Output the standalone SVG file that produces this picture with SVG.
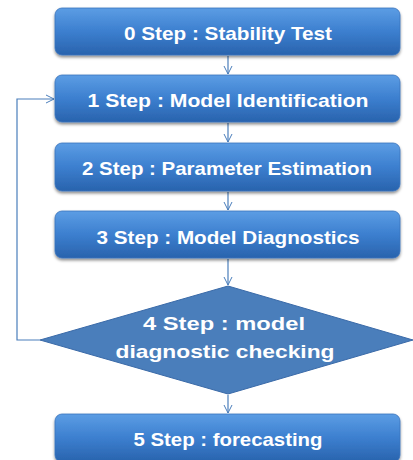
<svg xmlns="http://www.w3.org/2000/svg" width="413" height="460" viewBox="0 0 413 460">
<defs>
<linearGradient id="g" x1="0" y1="0" x2="0" y2="1">
<stop offset="0" stop-color="#5c9de4"/>
<stop offset="0.5" stop-color="#3c7fcf"/>
<stop offset="1" stop-color="#2963ad"/>
</linearGradient>
<filter id="sh" x="-5%" y="-10%" width="110%" height="130%">
<feDropShadow dx="0" dy="2" stdDeviation="1.5" flood-color="#000" flood-opacity="0.45"/>
</filter>
<marker id="ah" markerWidth="10" markerHeight="10" refX="9" refY="5" orient="auto" markerUnits="userSpaceOnUse">
<path d="M1,1 L9,5 L1,9" fill="none" stroke="#4a7ebb" stroke-width="1"/>
</marker>
</defs>
<style>
.box{fill:url(#g);stroke:#3a73bd;stroke-width:0.8;filter:url(#sh)}
.t{font-family:"Liberation Sans",Arial,sans-serif;font-weight:bold;font-size:19px;fill:#fff;text-anchor:middle}
.c{fill:none;stroke:#4a7ebb;stroke-width:1.2}
</style>
<rect width="413" height="460" fill="#fff"/>
<g id="connectors">
<line class="c" x1="228" y1="56" x2="228" y2="74" marker-end="url(#ah)"/>
<line class="c" x1="228" y1="123" x2="228" y2="142" marker-end="url(#ah)"/>
<line class="c" x1="228" y1="192" x2="228" y2="210" marker-end="url(#ah)"/>
<line class="c" x1="228" y1="259" x2="228" y2="285" marker-end="url(#ah)"/>
<line class="c" x1="228" y1="395" x2="228" y2="413" marker-end="url(#ah)"/>
<polyline class="c" points="40,340 17,340 17,99 54,99" marker-end="url(#ah)"/>
</g>
<g id="n0"><rect class="box" x="55" y="8" width="345" height="47" rx="7"/><text class="t" x="228" y="40" textLength="208" lengthAdjust="spacingAndGlyphs">0 Step : Stability Test</text></g>
<g id="n1"><rect class="box" x="55" y="75" width="345" height="47" rx="7"/><text class="t" x="228" y="107" textLength="281" lengthAdjust="spacingAndGlyphs">1 Step : Model Identification</text></g>
<g id="n2"><rect class="box" x="55" y="143" width="345" height="48" rx="7"/><text class="t" x="227" y="175" textLength="290" lengthAdjust="spacingAndGlyphs">2 Step : Parameter Estimation</text></g>
<g id="n3"><rect class="box" x="55" y="211" width="345" height="47" rx="7"/><text class="t" x="228" y="244" textLength="263" lengthAdjust="spacingAndGlyphs">3 Step : Model Diagnostics</text></g>
<g id="n4"><polygon points="228,286 413,340 228,394 40,340" fill="#4a7ebb" stroke="#3a6aa8" stroke-width="1"/><text class="t" x="224" y="330" textLength="162" lengthAdjust="spacingAndGlyphs">4 Step : model</text><text class="t" x="225" y="358" textLength="219" lengthAdjust="spacingAndGlyphs">diagnostic checking</text></g>
<g id="n5"><rect class="box" x="55" y="414" width="345" height="48" rx="7"/><text class="t" x="228" y="446" textLength="189" lengthAdjust="spacingAndGlyphs">5 Step : forecasting</text></g>
</svg>
